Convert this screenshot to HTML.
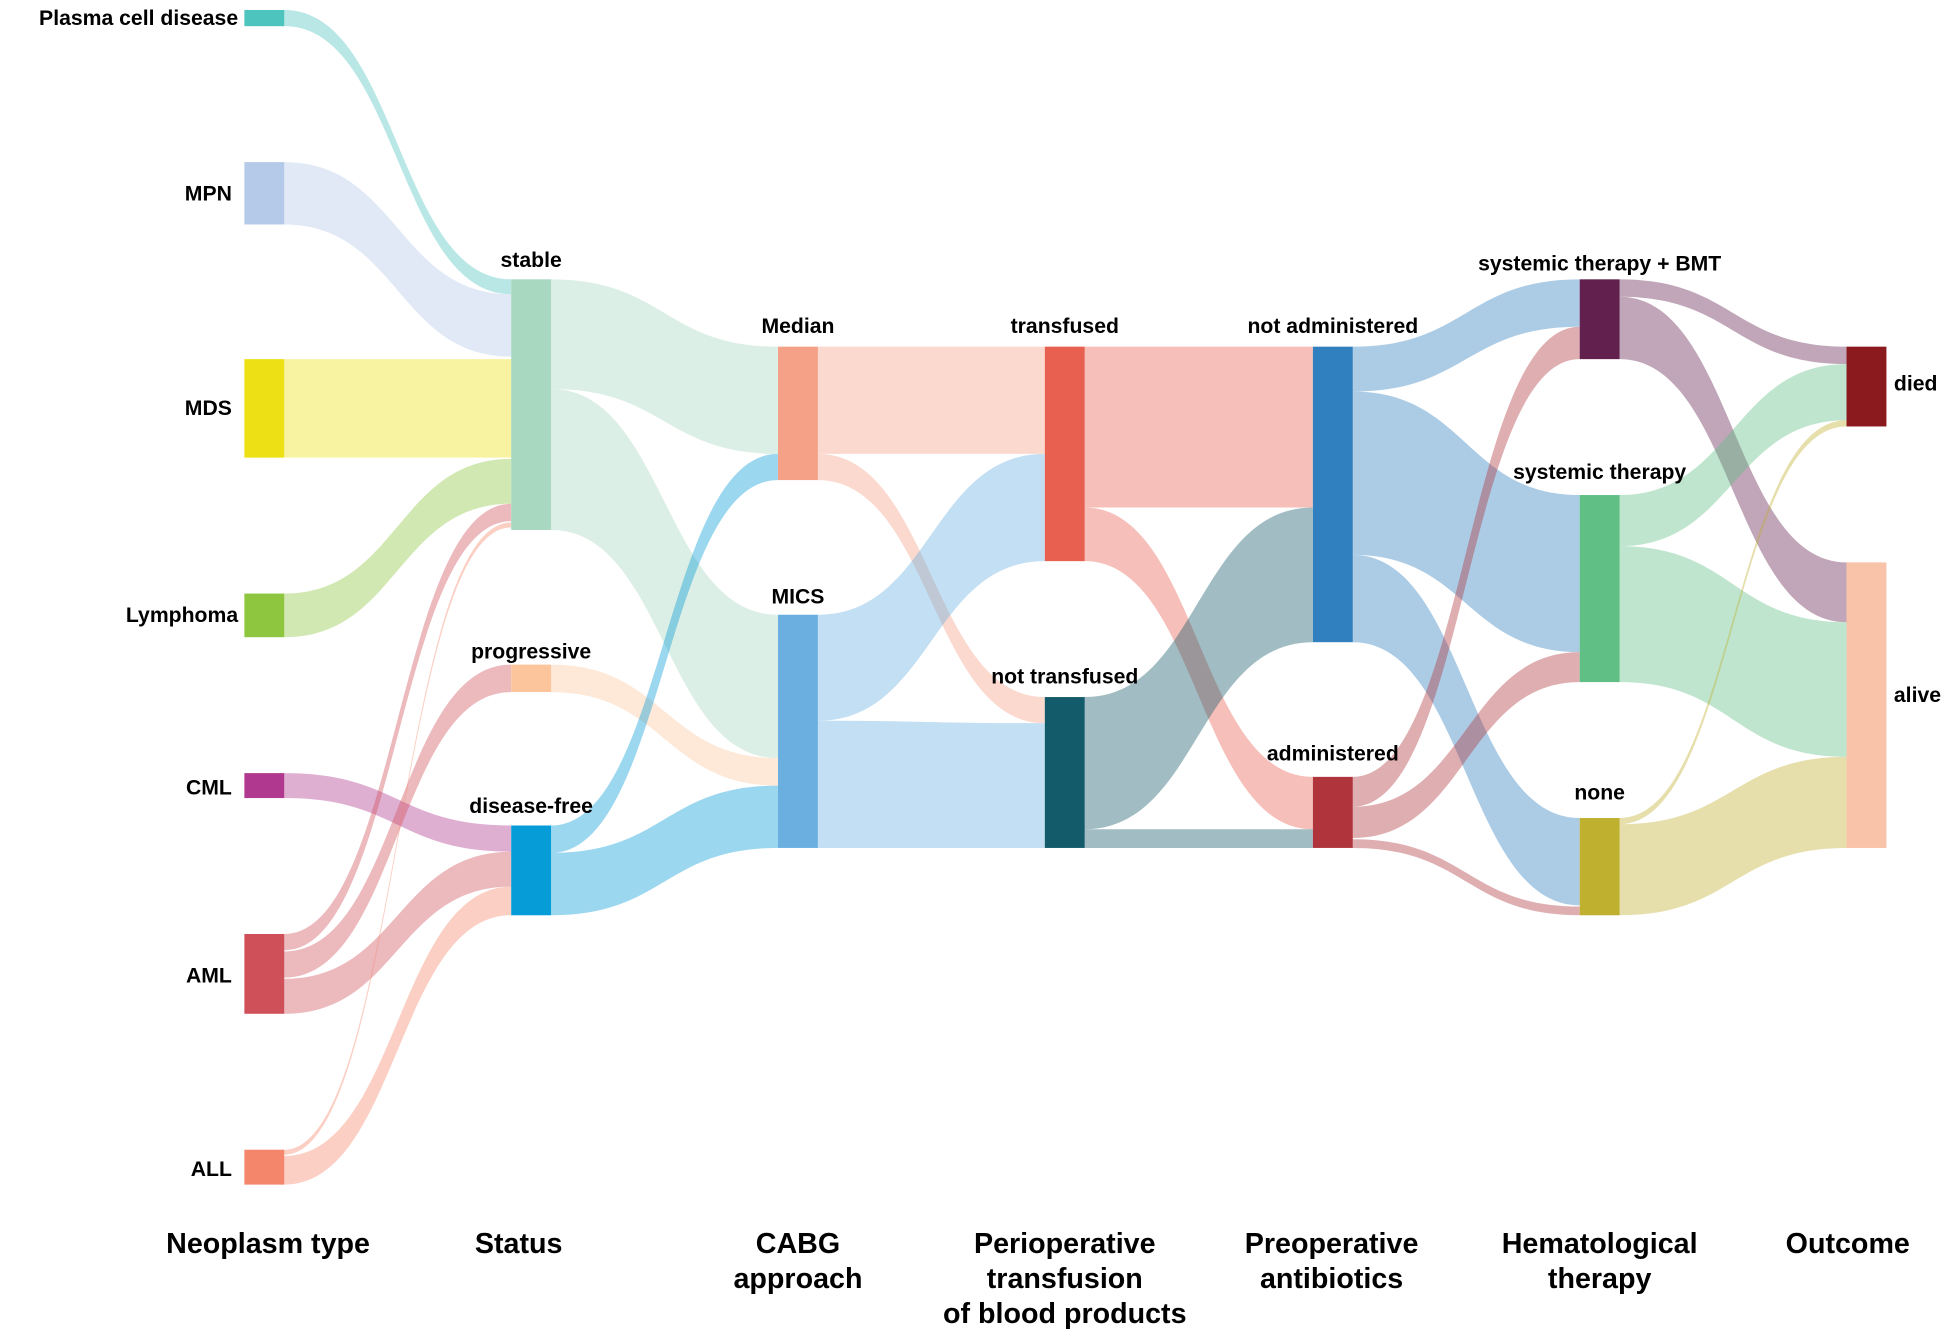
<!DOCTYPE html>
<html><head><meta charset="utf-8"><style>
html,body{margin:0;padding:0;background:#fff;}
svg{display:block;}
text{font-family:"Liberation Sans",Arial,sans-serif;font-weight:bold;fill:#000;}
</style></head><body>
<svg width="1955" height="1338" viewBox="0 0 1568 1073" preserveAspectRatio="none" xmlns="http://www.w3.org/2000/svg">
<g fill-opacity="0.4">
<!-- col1 -> col2 -->
<path fill="#4dc4bd" d="M228,8 C319,8 319,224 410,224 L410,236 C319,236 319,21 228,21 Z"/>
<path fill="#b5c9e8" d="M228,130 C319,130 319,236 410,236 L410,286 C319,286 319,180 228,180 Z"/>
<path fill="#ede015" d="M228,288 L410,288 L410,367 L228,367 Z"/>
<path fill="#8fc63f" d="M228,476 C319,476 319,368 410,368 L410,404 C319,404 319,511 228,511 Z"/>
<path fill="#b0388e" d="M228,620 C319,620 319,662 410,662 L410,683 C319,683 319,640 228,640 Z"/>
<path fill="#d05059" d="M228,749 C319,749 319,404 410,404 L410,418 C319,418 319,762 228,762 Z"/>
<path fill="#d05059" d="M228,763 C319,763 319,533 410,533 L410,555 C319,555 319,784 228,784 Z"/>
<path fill="#d05059" d="M228,785 C319,785 319,683 410,683 L410,711 C319,711 319,813 228,813 Z"/>
<path fill="#f4876b" d="M228,922 C319,922 319,419 410,419 L410,423 C319,423 319,926 228,926 Z"/>
<path fill="#f4876b" d="M228,927 C319,927 319,711 410,711 L410,734 C319,734 319,950 228,950 Z"/>
<!-- col2 -> col3 -->
<path fill="#a8d8c0" d="M442,224 C533,224 533,278 624,278 L624,364 C533,364 533,312 442,312 Z"/>
<path fill="#a8d8c0" d="M442,312 C533,312 533,493 624,493 L624,608 C533,608 533,425 442,425 Z"/>
<path fill="#fdc59c" d="M442,533 C533,533 533,608 624,608 L624,630 C533,630 533,555 442,555 Z"/>
<path fill="#069cd8" d="M442,662 C533,662 533,364 624,364 L624,385 C533,385 533,684 442,684 Z"/>
<path fill="#069cd8" d="M442,684 C533,684 533,630 624,630 L624,680 C533,680 533,734 442,734 Z"/>
<!-- col3 -> col4 -->
<path fill="#f5a187" d="M656,278 L838,278 L838,364 L656,364 Z"/>
<path fill="#f5a187" d="M656,364 C747,364 747,559 838,559 L838,580 C747,580 747,385 656,385 Z"/>
<path fill="#6aafe0" d="M656,493 C747,493 747,364 838,364 L838,450 C747,450 747,578 656,578 Z"/>
<path fill="#6aafe0" d="M656,578 C747,578 747,580 838,580 L838,680 C747,680 747,680 656,680 Z"/>
<!-- col4 -> col5 -->
<path fill="#e86050" d="M870,278 L1053,278 L1053,407 L870,407 Z"/>
<path fill="#e86050" d="M870,407 C961,407 961,623 1053,623 L1053,665 C961,665 961,450 870,450 Z"/>
<path fill="#135a6a" d="M870,559 C961,559 961,407 1053,407 L1053,515 C961,515 961,665 870,665 Z"/>
<path fill="#135a6a" d="M870,665 L1053,665 L1053,680 L870,680 Z"/>
<!-- col5 -> col6 -->
<path fill="#3080c0" d="M1085,278 C1176,278 1176,224 1267,224 L1267,262 C1176,262 1176,314 1085,314 Z"/>
<path fill="#3080c0" d="M1085,314 C1176,314 1176,397 1267,397 L1267,523 C1176,523 1176,445 1085,445 Z"/>
<path fill="#3080c0" d="M1085,445 C1176,445 1176,656 1267,656 L1267,726 C1176,726 1176,515 1085,515 Z"/>
<path fill="#b0343c" d="M1085,623 C1176,623 1176,262 1267,262 L1267,288 C1176,288 1176,647 1085,647 Z"/>
<path fill="#b0343c" d="M1085,647 C1176,647 1176,523 1267,523 L1267,547 C1176,547 1176,672 1085,672 Z"/>
<path fill="#b0343c" d="M1085,673 C1176,673 1176,727 1267,727 L1267,734 C1176,734 1176,680 1085,680 Z"/>
<!-- col6 -> col7 -->
<path fill="#62204e" d="M1299,224 C1390,224 1390,278 1481,278 L1481,292 C1390,292 1390,238 1299,238 Z"/>
<path fill="#62204e" d="M1299,238 C1390,238 1390,451 1481,451 L1481,499 C1390,499 1390,288 1299,288 Z"/>
<path fill="#5fbf85" d="M1299,397 C1390,397 1390,292 1481,292 L1481,337 C1390,337 1390,438 1299,438 Z"/>
<path fill="#5fbf85" d="M1299,438 C1390,438 1390,499 1481,499 L1481,607 C1390,607 1390,547 1299,547 Z"/>
<path fill="#c0b030" d="M1299,656 C1390,656 1390,337 1481,337 L1481,342 C1390,342 1390,661 1299,661 Z"/>
<path fill="#c0b030" d="M1299,661 C1390,661 1390,607 1481,607 L1481,680 C1390,680 1390,734 1299,734 Z"/>
</g>
<!-- nodes -->
<rect x="196" y="8" width="32" height="13" fill="#4dc4bd"/>
<rect x="196" y="130" width="32" height="50" fill="#b5c9e8"/>
<rect x="196" y="288" width="32" height="79" fill="#ede015"/>
<rect x="196" y="476" width="32" height="35" fill="#8fc63f"/>
<rect x="196" y="620" width="32" height="20" fill="#b0388e"/>
<rect x="196" y="749" width="32" height="64" fill="#d05059"/>
<rect x="196" y="922" width="32" height="28" fill="#f4876b"/>
<rect x="410" y="224" width="32" height="201" fill="#a8d8c0"/>
<rect x="410" y="533" width="32" height="22" fill="#fdc59c"/>
<rect x="410" y="662" width="32" height="72" fill="#069cd8"/>
<rect x="624" y="278" width="32" height="107" fill="#f5a187"/>
<rect x="624" y="493" width="32" height="187" fill="#6aafe0"/>
<rect x="838" y="278" width="32" height="172" fill="#e86050"/>
<rect x="838" y="559" width="32" height="121" fill="#135a6a"/>
<rect x="1053" y="278" width="32" height="237" fill="#3080c0"/>
<rect x="1053" y="623" width="32" height="57" fill="#b0343c"/>
<rect x="1267" y="224" width="32" height="64" fill="#62204e"/>
<rect x="1267" y="397" width="32" height="150" fill="#5fbf85"/>
<rect x="1267" y="656" width="32" height="78" fill="#c0b030"/>
<rect x="1481" y="278" width="32" height="64" fill="#8b1a1f"/>
<rect x="1481" y="451" width="32" height="229" fill="#f8c3a8"/>
<!-- labels -->
<g font-size="17">
<text x="191" y="20" text-anchor="end">Plasma cell disease</text>
<text x="186" y="161" text-anchor="end">MPN</text>
<text x="186" y="333" text-anchor="end">MDS</text>
<text x="191" y="499" text-anchor="end">Lymphoma</text>
<text x="186" y="637" text-anchor="end">CML</text>
<text x="186" y="788" text-anchor="end">AML</text>
<text x="186" y="943" text-anchor="end">ALL</text>
<text x="426" y="214" text-anchor="middle">stable</text>
<text x="426" y="528" text-anchor="middle">progressive</text>
<text x="426" y="652" text-anchor="middle">disease-free</text>
<text x="640" y="267" text-anchor="middle">Median</text>
<text x="640" y="484" text-anchor="middle">MICS</text>
<text x="854" y="267" text-anchor="middle">transfused</text>
<text x="854" y="548" text-anchor="middle">not transfused</text>
<text x="1069" y="267" text-anchor="middle">not administered</text>
<text x="1069" y="610" text-anchor="middle">administered</text>
<text x="1283" y="217" text-anchor="middle">systemic therapy + BMT</text>
<text x="1283" y="384" text-anchor="middle">systemic therapy</text>
<text x="1283" y="641" text-anchor="middle">none</text>
<text x="1519" y="313">died</text>
<text x="1519" y="563">alive</text>
</g>
<g font-size="23" text-anchor="middle">
<text x="215" y="1005">Neoplasm type</text>
<text x="416" y="1005">Status</text>
<text x="640" y="1005">CABG</text>
<text x="640" y="1033">approach</text>
<text x="854" y="1005">Perioperative</text>
<text x="854" y="1033">transfusion</text>
<text x="854" y="1061">of blood products</text>
<text x="1068" y="1005">Preoperative</text>
<text x="1068" y="1033">antibiotics</text>
<text x="1283" y="1005">Hematological</text>
<text x="1283" y="1033">therapy</text>
<text x="1482" y="1005">Outcome</text>
</g>
</svg>
</body></html>
